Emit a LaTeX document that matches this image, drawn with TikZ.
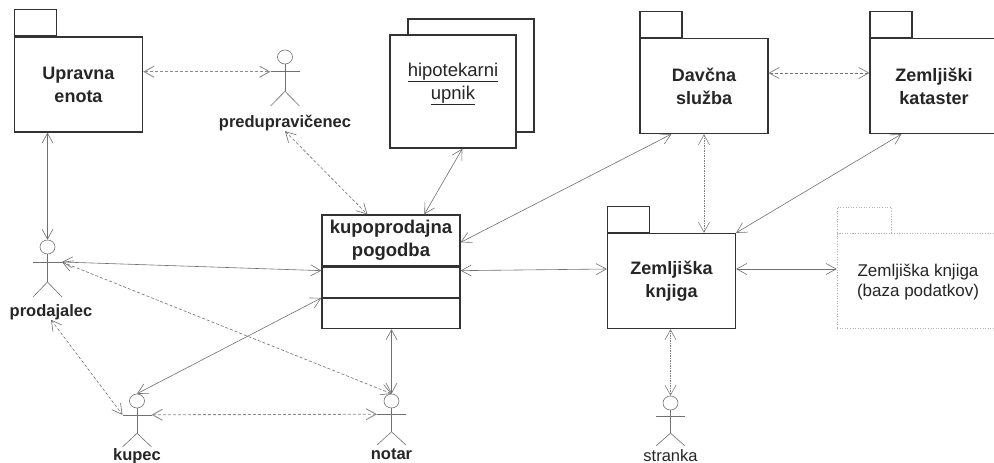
\documentclass[tikz,border=0pt]{standalone}
\usepackage{fontspec}
\setmainfont{Liberation Sans}
\usepackage{tikz}
\usetikzlibrary{arrows.meta,shapes.geometric}
\usetikzlibrary{positioning}

\definecolor{boxline}{HTML}{333333}
\definecolor{connline}{HTML}{707070}
\definecolor{inktext}{HTML}{262626}

\tikzset{
  box/.style={draw=boxline,line width=1.3pt,inner sep=0pt,align=center,text=inktext,
    font=\fontsize{18}{23}\selectfont\bfseries},
  pkgbody/.style={box,minimum width=128pt,minimum height=95pt},
  pkgtab/.style={draw=boxline,line width=1.3pt,inner sep=0pt,minimum width=42pt,minimum height=26pt},
  faint/.style={draw=black!30,line width=.6pt,dotted},
  stick/.style={draw=connline,line width=.6pt},
  head/.style={stick,ellipse,inner sep=0pt,minimum width=15pt,minimum height=14pt},
  actorname/.style={inner sep=0pt,text=inktext,font=\fontsize{16.5}{20}\selectfont\bfseries},
  assoc/.style={draw=connline,line width=.6pt,<->,>={Straight Barb[length=10pt,width=11pt]}},
  depend/.style={assoc,dash pattern=on 3pt off 2pt},
  softdep/.style={depend,draw=black!45,line width=.9pt},
  dotdep/.style={assoc,draw=black!50,dash pattern=on 1.5pt off 1pt}
}

\newcommand{\actor}[4]{
  \node[head] (#1) at (#2,#3) {};
  \coordinate (#1-left) at (#2-14.5,#3+.3*#4);
  \coordinate (#1-right) at (#2+14.5,#3+.3*#4);
  \coordinate (#1-hip) at (#2,#3+.7*#4);
  \coordinate (#1-foot) at (#2,#3+#4);
  \draw[stick] (#1.south)--(#1-hip);
  \draw[stick] (#1-left)--(#1-right);
  \draw[stick] (#1-hip)--(#1-foot-|#1-left);
  \draw[stick] (#1-hip)--(#1-foot-|#1-right);
}

\begin{document}
\begin{tikzpicture}[x=1pt,y=-1pt]
\clip (0,0) rectangle (994,463);
\fill[white] (0,0) rectangle (994,463);

% packages
\node[pkgbody] (upravna) at (78.5,84.5) {Upravna\\enota};
\node[pkgtab] (upravna-tab) [above right=0pt and 0pt of upravna.north west] {};
\node[pkgbody] (davcna) at (704,86) {Davčna\\služba};
\node[pkgtab] (davcna-tab) [above right=0pt and 0pt of davcna.north west] {};
\node[pkgbody] (zemljiski) at (934,86) {Zemljiški\\kataster};
\node[pkgtab] (zemljiski-tab) [above right=0pt and 0pt of zemljiski.north west] {};
\node[pkgbody] (knjiga) at (671.5,281) {Zemljiška\\knjiga};
\node[pkgtab] (knjiga-tab) [above right=0pt and 0pt of knjiga.north west] {};

\node[faint,inner sep=0pt,minimum width=162pt,minimum height=95pt] (baza) at (918,281) {};
\node[faint,inner sep=0pt,minimum width=54pt,minimum height=26pt] (baza-tab) [above right=0pt and 0pt of baza.north west] {};
\node[align=center,inner sep=0pt,text=inktext,font=\fontsize{17}{20}\selectfont] (baza-text) at (918,282) {Zemljiška knjiga\\(baza podatkov)};

% stacked object
\node[box,minimum width=126pt,minimum height=113pt,fill=white] (upnik-back) at (471,75.5) {};
\node[box,minimum width=126pt,minimum height=113pt,fill=white] (upnik) at (453,91.5) {};
\node[align=center,inner sep=0pt,text=inktext,font=\fontsize{18.5}{23}\selectfont] (upnik-text) at (453,84) {\underline{hipotekarni}\\\underline{upnik}};

% class
\node[box,font=\fontsize{18.5}{23}\selectfont\bfseries,minimum width=138pt,minimum height=51pt] (pogodba) at (391,240.5) {kupoprodajna\\pogodba};
\node[box,minimum width=138pt,minimum height=30pt] (pogodba-attr) [below=0pt of pogodba] {};
\node[box,minimum width=138pt,minimum height=30pt] (pogodba-op) [below=0pt of pogodba-attr] {};

% actors
\actor{predu}{285}{57}{49}
\actor{prodajalec}{47.5}{247}{50}
\actor{kupec}{137}{401}{46}
\actor{notar}{391.5}{401}{44}
\actor{stranka}{670.5}{403}{43}

\node[actorname] (predu-name) [below=9pt of predu-foot] {predupravičenec};
\node[actorname,xshift=3.5pt] (prodajalec-name) [below=7pt of prodajalec-foot] {prodajalec};
\node[actorname] (kupec-name) [below=1.5pt of kupec-foot] {kupec};
\node[actorname] (notar-name) [below=4pt of notar-foot] {notar};
\node[actorname,font=\fontsize{16.5}{20}\selectfont] (stranka-name) [below=3pt of stranka-foot] {stranka};

% connectors
\draw[softdep](upravna.east|-predu-left)--(predu-left);
\draw[assoc](prodajalec|-upravna.south)--(prodajalec.north);
\draw[depend](predu-name.south)--([xshift=46pt]pogodba.north west);
\draw[assoc]([xshift=73pt]upnik.south west)--([xshift=103pt]pogodba.north west);
\draw[assoc]([xshift=32pt]davcna.south west)--([yshift=-28pt]pogodba.north east);
\draw[assoc]([xshift=32pt]zemljiski.south west)--(knjiga.north east);
\draw[dotdep](davcna.south)--(davcna.south|-knjiga.north);
\draw[depend]([yshift=13pt]davcna.east)--([yshift=13pt]zemljiski.west);
\draw[assoc]([yshift=-4pt]pogodba-attr.north east)--([yshift=12pt]knjiga.west);
\draw[assoc]([yshift=12pt]knjiga.east)--([yshift=12pt]baza.west);
\draw[dotdep](stranka|-knjiga.south)--(stranka.north);
\draw[assoc](prodajalec-right)--([yshift=-4pt]pogodba-attr.north west);
\draw[depend](prodajalec-right)--(notar.north);
\draw[depend](prodajalec-name.south)--(kupec-left);
\draw[assoc](kupec.north)--(pogodba-op.north west);
\draw[softdep](kupec-right)--(notar-left);
\draw[assoc](notar|-pogodba-op.south)--(notar.north);
\end{tikzpicture}
\end{document}
